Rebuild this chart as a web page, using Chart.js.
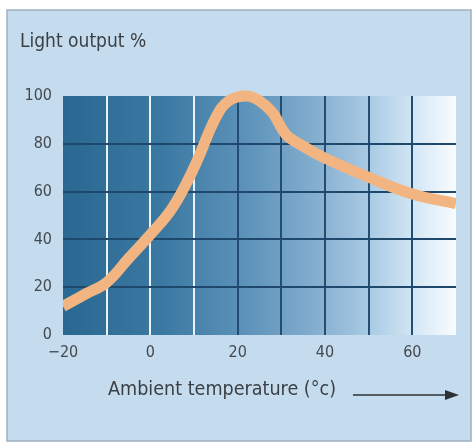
<!DOCTYPE html>
<html>
<head>
<meta charset="utf-8">
<script src="https://cdn.jsdelivr.net/npm/chart.js@4"></script>
<style>
  html, body { margin: 0; padding: 0; background: #fff; }
  #wrap { width: 474px; height: 443px; }
</style>
</head>
<body>
<div id="wrap"><canvas id="myChart" width="474" height="443"></canvas></div>
<script>
var temps = [-20, -15, -10, -5, 0, 5, 10, 15, 18, 22, 25, 28, 31, 35, 40, 50, 60, 70];
var output = [12, 17, 22, 32, 42, 53, 70, 91, 98, 100, 98, 93, 84, 79, 74, 66, 59, 55];
var xTicks = [-20, 0, 20, 40, 60];
var whiteLines = [-10, 0, 10];

var points = temps.map((t, i) => ({ x: t, y: output[i] }));

const backdrop = {
    id: 'backdrop',
    beforeDraw(chart) {
        const c = chart.ctx;
        const a = chart.chartArea;
        c.save();
        c.fillStyle = '#c5dcef';
        c.fillRect(7, 10, 464, 431);
        c.strokeStyle = '#9fb0bf';
        c.lineWidth = 1.5;
        c.strokeRect(7, 10, 464, 431);
        var g = c.createLinearGradient(a.left, 0, a.right, 0);
        g.addColorStop(0, '#2a6892');
        g.addColorStop(0.25, '#3b79a2');
        g.addColorStop(0.45, '#5a90b8');
        g.addColorStop(0.62, '#7eaacb');
        g.addColorStop(0.78, '#a9cae4');
        g.addColorStop(0.9, '#d6e8f5');
        g.addColorStop(1, '#f8fcff');
        c.fillStyle = g;
        c.fillRect(a.left, a.top, a.right - a.left, a.bottom - a.top);
        c.restore();
    },
    afterDraw(chart) {
        const c = chart.ctx;
        c.save();
        c.fillStyle = '#3a3f44';
        c.font = '19px "Liberation Sans Narrow", "DejaVu Sans Condensed", sans-serif';
        c.textBaseline = 'middle';
        c.textAlign = 'left';
        c.fillText('Light output %', 20, 42);
        c.font = '20px "Liberation Sans Narrow", "DejaVu Sans Condensed", sans-serif';
        c.fillText('Ambient temperature (°c)', 108, 390, 228);
        c.strokeStyle = '#2c3135';
        c.lineWidth = 1.5;
        c.beginPath();
        c.moveTo(353, 395);
        c.lineTo(450, 395);
        c.stroke();
        c.fillStyle = '#2c3135';
        c.beginPath();
        c.moveTo(459, 395);
        c.lineTo(445, 390);
        c.lineTo(445, 400);
        c.closePath();
        c.fill();
        c.restore();
    }
};

new Chart(document.getElementById('myChart'), {
    type: 'line',
    data: {
        datasets: [{
            label: 'Light output %',
            data: points,
            borderColor: '#f2b581',
            borderWidth: 11,
            borderCapStyle: 'butt',
            tension: 0.4,
            clip: { left: 0, right: 0, top: 10, bottom: 0 },
            pointRadius: 0,
            fill: false
        }]
    },
    options: {
        responsive: false,
        animation: false,
        layout: { padding: { left: 0, top: 96, right: 18, bottom: 0 } },
        plugins: { legend: { display: false }, tooltip: { enabled: false } },
        scales: {
            x: {
                type: 'linear',
                min: -20,
                max: 70,
                afterFit: s => { s.height = 108; },
                border: { display: false },
                grid: {
                    drawTicks: false,
                    lineWidth: 2,
                    color: ctx => {
                        var v = ctx.tick.value;
                        if (v === -20 || v === 70) return 'rgba(0,0,0,0)';
                        return whiteLines.includes(v) ? '#eaf3fa' : '#234d72';
                    }
                },
                ticks: {
                    stepSize: 10,
                    padding: 8,
                    maxRotation: 0,
                    autoSkip: false,
                    color: '#44494e',
                    font: { family: '"Liberation Sans Narrow", "DejaVu Sans Condensed", sans-serif', size: 16 },
                    callback: v => xTicks.includes(v) ? (v < 0 ? '\u2212' + Math.abs(v) : String(v)) : ''
                }
            },
            y: {
                min: 0,
                max: 100,
                afterFit: s => { s.width = 63; },
                border: { display: false },
                grid: {
                    drawTicks: false,
                    lineWidth: 2,
                    color: ctx => (ctx.tick.value === 0 || ctx.tick.value === 100) ? 'rgba(0,0,0,0)' : '#1f486d'
                },
                ticks: {
                    stepSize: 20,
                    padding: 11,
                    color: '#44494e',
                    font: { family: '"Liberation Sans Narrow", "DejaVu Sans Condensed", sans-serif', size: 16 }
                }
            }
        }
    },
    plugins: [backdrop]
});
</script>
</body>
</html>
